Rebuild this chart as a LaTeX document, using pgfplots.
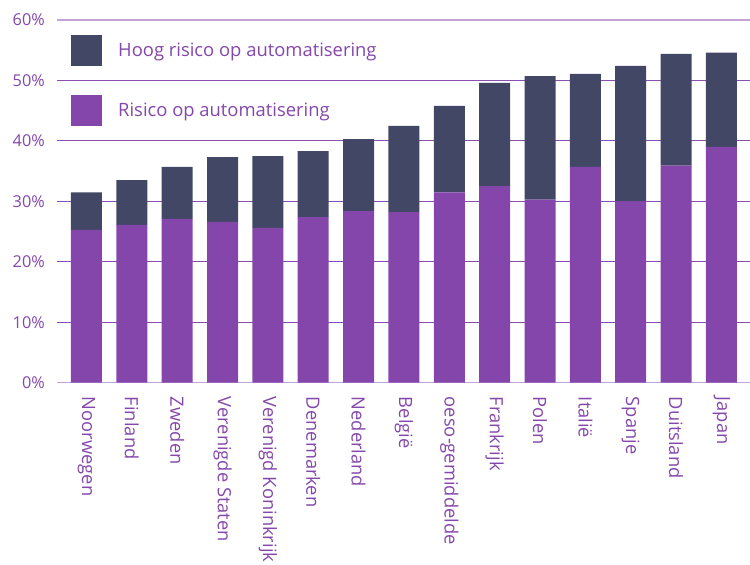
\documentclass[border=0pt]{standalone}
\usepackage{pgfplots}
\pgfplotsset{compat=1.18}
\usepackage{fontspec}
\setmainfont{Open Sans}
\definecolor{navy}{HTML}{434766}
\definecolor{purp}{HTML}{8546AB}
\definecolor{txt}{HTML}{8447AC}
\definecolor{gridd}{HTML}{8A4FB0}
\definecolor{gridl}{HTML}{C4A3D8}
\begin{document}
\begin{tikzpicture}
\begin{axis}[
  at={(0,0)}, anchor=south west,
  scale only axis,
  width=693bp, height=362.7bp,
  ybar stacked,
  bar width=31bp,
  xmin=-0.65, xmax=14.63,
  ymin=0, ymax=60,
  xtick={0,...,14},
  xticklabels={Noorwegen,Finland,Zweden,Verenigde Staten,Verenigd Koninkrijk,Denemarken,Nederland,België,oeso-gemiddelde,Frankrijk,Polen,Italië,Spanje,Duitsland,Japan},
  ytick={10,20,30,40,50},
  extra y ticks={0,60},
  extra y tick style={grid style={draw=gridl, line width=1.3bp}},
  yticklabel={\pgfmathprintnumber{\tick}\%},
  /pgf/number format/assume math mode=true,
  major tick length=0pt,
  axis line style={draw=none},
  ymajorgrids,
  grid style={draw=gridd, line width=1.1bp},
  ticklabel style={font=\fontsize{18.3bp}{20bp}\selectfont, text=txt},
  xticklabel style={rotate=-90, anchor=west, inner sep=0pt},
  xticklabel shift=14bp,
  yticklabel style={anchor=east, inner sep=0pt, font=\fontsize{16.3bp}{20bp}\selectfont},
  yticklabel shift=12bp,
  legend image code/.code={\fill[#1] (0bp,-15.5bp) rectangle (31bp,15.5bp);},
  reverse legend,
  legend cell align=left,
  legend style={draw=none, fill=none, at={(rel axis cs:0,1)}, anchor=north west,
    xshift=14bp, yshift=-15bp, inner sep=0pt, row sep=29bp, column sep=0bp,
    font=\fontsize{18.4bp}{21bp}\selectfont, text=txt,
    nodes={inner sep=0pt}},
  legend columns=1,
]
\addplot[fill=purp, draw=none] coordinates {
 (0,25.3) (1,26.1) (2,27.1) (3,26.6) (4,25.6) (5,27.4) (6,28.4) (7,28.2)
 (8,31.5) (9,32.5) (10,30.3) (11,35.7) (12,30.0) (13,35.9) (14,39.0)};
\addlegendentry{\hspace{16bp}Risico op automatisering}
\addplot[fill=navy, draw=none] coordinates {
 (0,6.2) (1,7.4) (2,8.6) (3,10.7) (4,11.9) (5,10.9) (6,11.9) (7,14.3)
 (8,14.3) (9,17.1) (10,20.4) (11,15.4) (12,22.4) (13,18.5) (14,15.6)};
\addlegendentry{\hspace{16bp}Hoog risico op automatisering}
\end{axis}
\pgfresetboundingbox
\path[use as bounding box] (-57bp,-182.3bp) rectangle (693bp,382.7bp);
\end{tikzpicture}
\end{document}
